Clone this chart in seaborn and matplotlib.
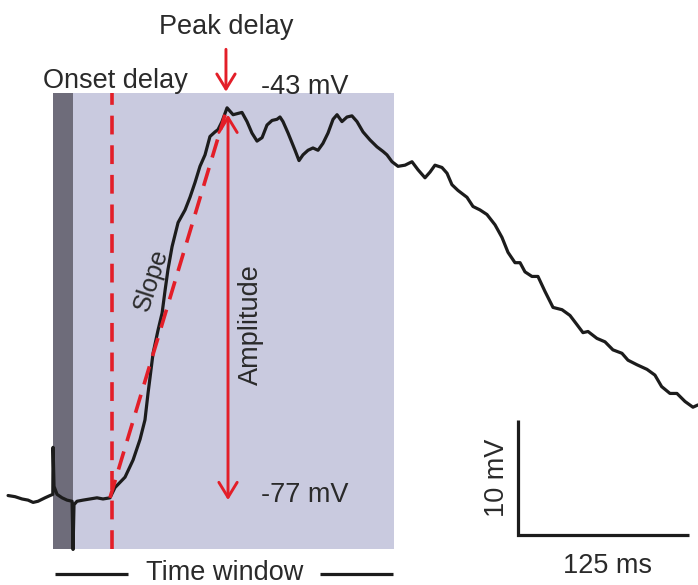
import matplotlib
matplotlib.use("Agg")
import matplotlib.pyplot as plt
from matplotlib.patches import Rectangle
import pandas as pd
import seaborn as sns

# Membrane potential trace: time (ms, stimulus at 0) and voltage (mV)
time_ms = [
    -47.5, -42.4, -37.3, -32.9, -29.2, -25.6, -20.5, -16.8, -14.8, -14.6,
    -13.9, -11.7, -8.0, -4.4, -0.7, 0.0, 0.7, 2.9, 7.3, 12.4,
    17.5, 21.9, 27.0, 30.7, 38.0, 43.9, 49.0, 52.6, 54.8, 56.3,
    58.5, 62.1, 65.1, 67.3, 69.4, 72.4, 76.8, 81.9, 85.5, 89.2,
    92.8, 96.5, 100.1, 103.8, 106.0, 108.9, 112.6, 117.0, 123.5, 127.2,
    130.8, 134.5, 138.2, 141.8, 145.5, 149.1, 151.3, 153.5, 157.2, 162.3,
    165.2, 168.1, 171.8, 175.4, 179.1, 182.7, 186.4, 190.1, 193.0, 196.6,
    200.3, 203.9, 207.6, 212.0, 217.1, 222.2, 226.6, 229.5, 233.2, 237.6,
    242.7, 247.8, 252.2, 257.3, 261.0, 264.6, 269.7, 273.4, 277.0, 281.4,
    288.0, 292.4, 297.5, 302.6, 308.5, 313.6, 318.0, 323.1, 326.8, 330.4,
    335.5, 339.9, 345.0, 350.9, 357.5, 363.3, 368.4, 372.8, 376.5, 383.0,
    388.9, 394.7, 401.3, 405.7, 412.3, 419.6, 425.4, 430.3, 436.4, 441.5,
    447.4, 453.2, 456.9,
]
voltage_mv = [
    -76.8, -76.9, -77.1, -77.2, -77.4, -77.3, -77.0, -76.8, -76.7, -72.6,
    -76.0, -76.7, -77.0, -77.2, -77.3, -81.5, -77.6, -77.3, -77.2, -77.1,
    -77.0, -77.1, -77.0, -76.1, -75.2, -73.7, -71.9, -70.2, -67.9, -66.5,
    -64.4, -62.4, -60.9, -58.9, -57.1, -55.1, -53.0, -51.9, -50.8, -49.5,
    -48.1, -47.1, -45.5, -45.1, -44.9, -44.2, -43.0, -43.6, -43.4, -44.2,
    -45.2, -45.9, -45.6, -44.5, -44.1, -44.0, -43.8, -44.2, -45.2, -46.7,
    -47.6, -47.1, -46.7, -46.5, -46.7, -46.1, -45.2, -44.0, -43.6, -44.2,
    -43.8, -43.7, -44.2, -45.1, -45.8, -46.4, -46.8, -47.1, -47.7, -48.1,
    -48.0, -47.7, -48.4, -49.1, -48.6, -48.0, -48.2, -48.7, -49.7, -50.2,
    -50.8, -51.6, -51.9, -52.3, -53.2, -54.3, -55.6, -56.5, -56.5, -57.3,
    -57.7, -57.7, -59.0, -60.4, -60.6, -61.1, -61.9, -62.6, -62.5, -63.1,
    -63.4, -64.1, -64.4, -65.0, -65.4, -65.8, -66.3, -67.3, -67.9, -67.9,
    -68.6, -69.1, -68.9,
]

# Measured quantities
baseline_mv = -77.0
peak_mv = -43.0
onset_ms = 27.0
peak_ms = 112.6
window_ms = [-14.6, 234.6]
stimulus_ms = [-14.6, 0.0]
scale_time_ms = 125
scale_volt_mv = 10

RED = "#E31E28"
INK = "#1C1C1C"
TEXT = "#2A2A2A"

sns.set_theme(style="white")
plt.rcParams["font.family"] = ["Liberation Sans", "DejaVu Sans"]

fig = plt.figure(figsize=(6.98, 5.85), dpi=100)
ax = fig.add_axes([0, 0, 1, 1])
ax.set_xlim(-53.4, 456.9)
ax.set_ylim(-84.6, -33.6)
ax.axis("off")

# Analysis window and stimulus period
y_lo, y_hi = -81.5, -41.7
ax.add_patch(Rectangle((window_ms[0], y_lo), window_ms[1] - window_ms[0], y_hi - y_lo,
                       facecolor="#C9CADF", edgecolor="none", zorder=0))
ax.add_patch(Rectangle((stimulus_ms[0], y_lo), stimulus_ms[1] - stimulus_ms[0], y_hi - y_lo,
                       facecolor="#6E6C7A", edgecolor="none", zorder=1))

# Onset marker
ax.plot([onset_ms + 1.5, onset_ms + 1.5], [y_lo, y_hi], color=RED, lw=2.6,
        dashes=(5.2, 3.0), zorder=3)

# Voltage trace
df = pd.DataFrame({"time": time_ms, "voltage": voltage_mv})
sns.lineplot(data=df, x="time", y="voltage", sort=False, estimator=None,
             color=INK, lw=2.3, ax=ax, zorder=4)

# Slope line from onset to peak
ax.plot([onset_ms, peak_ms - 1.5], [baseline_mv, peak_mv - 0.6], color=RED, lw=2.6,
        dashes=(5.2, 3.0), zorder=5)

# Amplitude double arrow
ax.annotate("", xy=(peak_ms + 0.7, peak_mv - 0.6), xytext=(peak_ms + 0.7, baseline_mv - 0.2),
            arrowprops=dict(arrowstyle="<->,head_length=0.9,head_width=0.55",
                            color=RED, lw=2.1, shrinkA=0, shrinkB=0), zorder=6)

# Peak delay arrow
ax.annotate("", xy=(peak_ms - 0.8, -41.6), xytext=(peak_ms - 0.8, -37.9),
            arrowprops=dict(arrowstyle="->,head_length=0.9,head_width=0.55",
                            color=RED, lw=2.1, shrinkA=0, shrinkB=0), zorder=6)

fs = 19.5
ax.text(112.0, -36.55, "Peak delay", ha="center", va="baseline", fontsize=fs, color=TEXT)
ax.text(30.7, -41.25, "Onset delay", ha="center", va="baseline", fontsize=fs, color=TEXT)
ax.text(169.6, -41.8, f"{peak_mv:.0f} mV", ha="center", va="baseline", fontsize=fs, color=TEXT)
ax.text(169.6, -77.35, f"{baseline_mv:.0f} mV", ha="center", va="baseline", fontsize=fs, color=TEXT)
ax.text(130.1, -61.9, "Amplitude", ha="center", va="center", rotation=90, fontsize=fs, color=TEXT)
ax.text(57.5, -58.0, "Slope", ha="center", va="center", rotation=72, fontsize=18, color=TEXT)

# Time window label with side bars
ax.text(111.1, -84.15, "Time window", ha="center", va="baseline", fontsize=fs, color=TEXT)
ax.plot([-13.2, 40.2], [-83.63, -83.63], color=INK, lw=2.3, solid_capstyle="butt")
ax.plot([180.6, 233.9], [-83.63, -83.63], color=INK, lw=2.3, solid_capstyle="butt")

# Scale bar
sb_x, sb_y = 325.3, -80.23
ax.plot([sb_x, sb_x, sb_x + scale_time_ms], [sb_y + scale_volt_mv, sb_y, sb_y],
        color=INK, lw=2.3, solid_joinstyle="miter", solid_capstyle="butt")
ax.text(sb_x + scale_time_ms / 2 + 3, -83.54, f"{scale_time_ms} ms", ha="center",
        va="baseline", fontsize=fs, color=TEXT)
ax.text(309.9, sb_y + scale_volt_mv / 2, f"{scale_volt_mv} mV", ha="center", va="center",
        rotation=90, fontsize=fs, color=TEXT)

fig.savefig("out.png", dpi=100)
